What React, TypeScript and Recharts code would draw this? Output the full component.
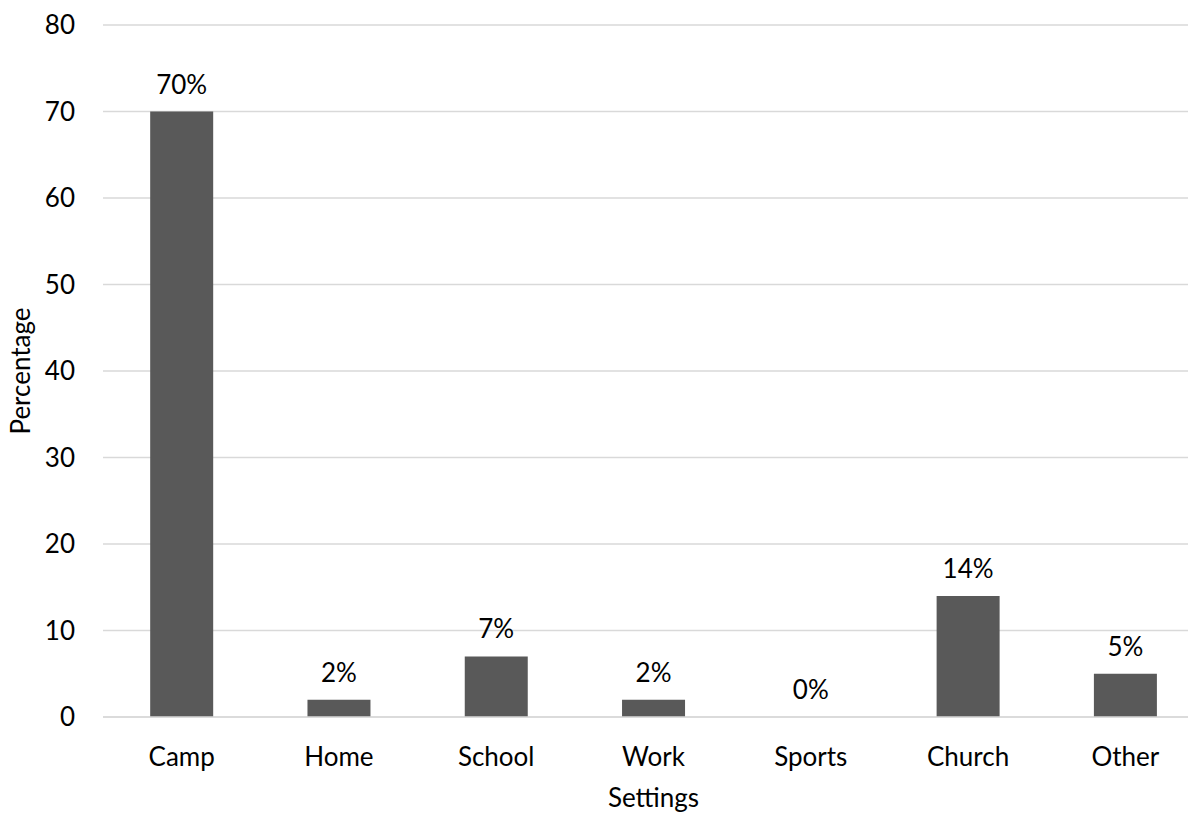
import React from 'react';
import { BarChart, Bar, XAxis, YAxis, CartesianGrid, LabelList } from 'recharts';

const categories = ['Camp', 'Home', 'School', 'Work', 'Sports', 'Church', 'Other'];
const percentages = [70, 2, 7, 2, 0, 14, 5];
const yTicks = [0, 10, 20, 30, 40, 50, 60, 70, 80];

const data = categories.map((setting, i) => ({ setting, value: percentages[i] }));

const FONT = 'Lato, "Open Sans", sans-serif';
const TEXT = '#000000';
const SIZE = 26;

const XTitle = (props: any) => {
  const { viewBox } = props;
  const cx = viewBox.x + viewBox.width / 2;
  return (
    <text x={cx} y={viewBox.y + 90} textAnchor="middle" fontSize={SIZE} fill={TEXT} fontFamily={FONT}>
      Settings
    </text>
  );
};

const YTitle = (props: any) => {
  const { viewBox } = props;
  const cy = viewBox.y + viewBox.height / 2;
  const x = 30;
  return (
    <text x={x} y={cy} transform={`rotate(-90, ${x}, ${cy})`} textAnchor="middle" fontSize={SIZE} fill={TEXT} fontFamily={FONT}>
      Percentage
    </text>
  );
};

export default function App() {
  return (
    <div style={{ position: 'absolute', left: 0, top: 0, width: 1188, height: 813, overflow: 'hidden', background: '#fff' }}>
      <BarChart
        width={1210}
        height={813}
        data={data}
        margin={{ top: 25, right: 6, left: 0, bottom: 0 }}
        barCategoryGap="30%"
        style={{ fontFamily: FONT }}
      >
        <CartesianGrid vertical={false} stroke="#d9d9d9" strokeWidth={1.5} />
        <XAxis
          dataKey="setting"
          height={96}
          axisLine={{ stroke: '#d9d9d9', strokeWidth: 1.5 }}
          tickLine={false}
          tickSize={0}
          tickMargin={31}
          tick={{ fontSize: SIZE, fill: TEXT, fontFamily: FONT }}
          label={<XTitle />}
        />
        <YAxis
          width={103}
          domain={[0, 80]}
          ticks={yTicks}
          interval={0}
          axisLine={false}
          tickLine={false}
          tickSize={0}
          tickMargin={28}
          tick={{ fontSize: SIZE, fill: TEXT, fontFamily: FONT }}
          label={<YTitle />}
        />
        <Bar
          dataKey="value"
          fill="#595959"
          minPointSize={(v: any) => (v === 0 ? 0.01 : 0)}
          isAnimationActive={false}
        >
          <LabelList
            dataKey="value"
            position="top"
            offset={18}
            formatter={(v: any) => `${v}%`}
            style={{ fontSize: SIZE, fill: TEXT, fontFamily: FONT }}
          />
        </Bar>
      </BarChart>
    </div>
  );
}
